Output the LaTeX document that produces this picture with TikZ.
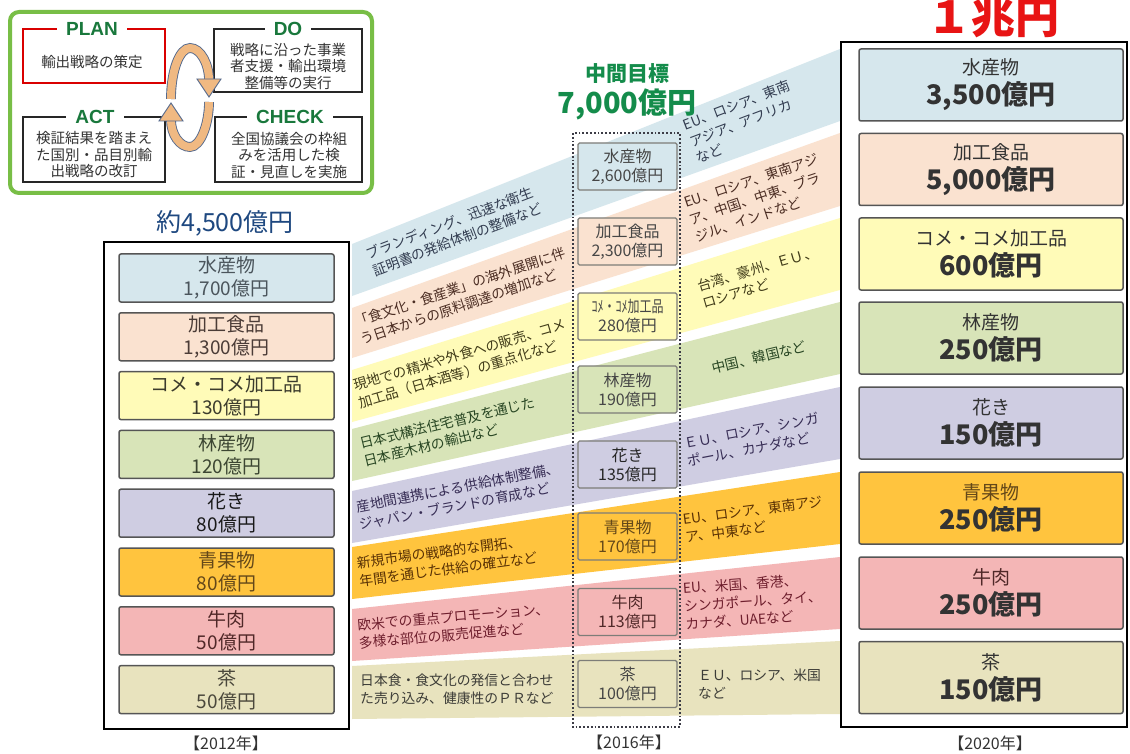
\documentclass[tikz,border=0pt]{standalone}
\usepackage{fontspec}
\setmainfont{Noto Sans CJK JP}
\newfontfamily\latb{Liberation Sans}
\newcommand{\myfs}[2]{\fontsize{#1}{#2}\selectfont}
\newcommand{\rv}[1]{{\bfseries\myfs{27}{30}#1}}
\definecolor{cb1}{RGB}{214,231,237}
\definecolor{cb2}{RGB}{250,226,208}
\definecolor{cb3}{RGB}{255,251,184}
\definecolor{cb4}{RGB}{216,228,184}
\definecolor{cb5}{RGB}{207,205,226}
\definecolor{cb6}{RGB}{255,196,62}
\definecolor{cb7}{RGB}{244,182,182}
\definecolor{cb8}{RGB}{232,227,190}
\definecolor{ct1}{RGB}{50,60,80}
\definecolor{ct2}{RGB}{75,45,35}
\definecolor{ct3}{RGB}{65,60,25}
\definecolor{ct4}{RGB}{40,70,35}
\definecolor{ct5}{RGB}{55,45,85}
\definecolor{ct6}{RGB}{90,50,5}
\definecolor{ct7}{RGB}{110,30,45}
\definecolor{ct8}{RGB}{60,60,55}
\definecolor{lt1}{RGB}{75,85,92}
\definecolor{lt2}{RGB}{75,60,55}
\definecolor{lt3}{RGB}{60,60,45}
\definecolor{lt4}{RGB}{60,70,50}
\definecolor{lt5}{RGB}{25,25,25}
\definecolor{lt6}{RGB}{100,72,25}
\definecolor{lt7}{RGB}{80,40,40}
\definecolor{lt8}{RGB}{75,72,60}
\definecolor{boxln}{RGB}{85,85,85}
\definecolor{mboxln}{RGB}{125,125,120}
\definecolor{mtxt}{RGB}{70,70,70}
\definecolor{pdgreen}{RGB}{25,120,60}
\definecolor{pdframe}{RGB}{120,190,70}
\definecolor{midgreen}{RGB}{20,140,75}
\definecolor{sumblue}{RGB}{30,72,128}
\definecolor{bigred}{RGB}{232,20,20}
\definecolor{arrln}{RGB}{85,105,140}
\definecolor{arrfill}{RGB}{240,185,130}
\definecolor{dotln}{RGB}{60,60,70}
\begin{document}
\begin{tikzpicture}[x=1pt,y=-1pt,
  lbox/.style={draw=boxln,line width=1.5pt,rounded corners=2pt,minimum width=215pt,minimum height=48pt,inner sep=0pt,align=center,font=\myfs{19}{23}},
  mbox/.style={draw=mboxln,line width=1.2pt,rounded corners=1.5pt,minimum width=99pt,minimum height=47pt,inner sep=0pt,align=center,font=\myfs{16}{19},text=mtxt},
  rbox/.style={draw=boxln,line width=1.5pt,rounded corners=2pt,minimum width=264pt,minimum height=72pt,inner sep=0pt,align=center,font=\myfs{19}{30},text=black!80},
  btext/.style={anchor=west,inner sep=0pt,align=left,font=\myfs{13.8}{18}},
  pbox/.style={draw=black!85,line width=1.4pt,inner sep=0pt},
  ptitle/.style={fill=white,inner xsep=9pt,inner ysep=1pt,font=\latb\bfseries\myfs{19}{19},text=pdgreen},
  ptext/.style={align=center,inner sep=0pt,font=\myfs{14.5}{16.5},text=black!80},
  ribbon/.style={draw=arrln,line width=0.9pt,double=arrfill,double distance=8pt},
  ahead/.style={fill=arrfill,draw=arrln,line width=0.9pt,line join=miter},
  yr/.style={font=\myfs{16}{16},text=black!80,inner sep=0pt}
]
\useasboundingbox (0,0) rectangle (1130,754);
\fill[white] (0,0) rectangle (1130,754);

% ---------- bands ----------
\fill[cb1] (352,244) -- (840,49)  -- (840,121) -- (352,296) -- cycle;
\fill[cb2] (352,308) -- (840,133) -- (840,206) -- (352,358) -- cycle;
\fill[cb3] (352,370) -- (840,218) -- (840,290) -- (352,422) -- cycle;
\fill[cb4] (352,429) -- (840,302) -- (840,374) -- (352,481) -- cycle;
\fill[cb5] (352,491) -- (840,387) -- (840,459) -- (352,543) -- cycle;
\fill[cb6] (352,547) -- (840,472) -- (840,544) -- (352,599) -- cycle;
\fill[cb7] (352,609) -- (840,557) -- (840,629) -- (352,661) -- cycle;
\fill[cb8] (352,666) -- (840,641) -- (840,714) -- (352,719) -- cycle;

% band texts (left)
\node[btext,rotate=20.8,text=ct1] (t1l) at (370,263) {ブランディング、迅速な衛生\\証明書の発給体制の整備など};
\node[btext,rotate=18.5,text=ct2] (t2l) at (358,331) {「食文化・食産業」の海外展開に伴\\う日本からの原料調達の増加など};
\node[btext,rotate=16.2,text=ct3] (t3l) at (356,394.5) {現地での精米や外食への販売、コメ\\加工品（日本酒等）の重点化など};
\node[btext,rotate=13.5,text=ct4] (t4l) at (362,452.5) {日本式構法住宅普及を通じた\\日本産木材の輸出など};
\node[btext,rotate=10.9,text=ct5] (t5l) at (358,516) {産地間連携による供給体制整備、\\ジャパン・ブランドの育成など};
\node[btext,rotate=7.6,text=ct6] (t6l) at (358,572) {新規市場の戦略的な開拓、\\年間を通じた供給の確立など};
\node[btext,rotate=4.9,text=ct7] (t7l) at (358,634) {欧米での重点プロモーション、\\多様な部位の販売促進など};
\node[btext,text=ct8] (t8l) at (360,689) {日本食・食文化の発信と合わせ\\た売り込み、健康性のＰＲなど};

% band texts (right)
\node[btext,rotate=20.8,text=ct1] (t1r) at (690,142) {EU、ロシア、東南\\アジア、アフリカ\\など};
\node[btext,rotate=18.5,text=ct2] (t2r) at (690,220) {EU、ロシア、東南アジ\\ア、中国、中東、ブラ\\ジル、インドなど};
\node[btext,rotate=16.2,text=ct3] (t3r) at (700,294.5) {台湾、豪州、ＥＵ、\\ロシアなど};
\node[btext,rotate=13.5,text=ct4] (t4r) at (712,368.5) {中国、韓国など};
\node[btext,rotate=10.9,text=ct5] (t5r) at (686,452.5) {ＥＵ、ロシア、シンガ\\ポール、カナダなど};
\node[btext,rotate=7.6,text=ct6] (t6r) at (684,528.5) {EU、ロシア、東南アジ\\ア、中東など};
\node[btext,rotate=4.0,text=ct7] (t7r) at (684,606) {EU、米国、香港、\\シンガポール、タイ、\\カナダ、UAEなど};
\node[btext,text=ct8] (t8r) at (698,684) {ＥＵ、ロシア、米国\\など};

% ---------- PDCA ----------
\draw[pdframe,line width=4pt,rounded corners=9pt,fill=white] (10,12) rectangle (372,193);
\node[pbox,draw=red!85!black,minimum width=142pt,minimum height=54pt] (planbox) at (94,56) {};
\node[pbox,minimum width=148pt,minimum height=63pt] (dobox) at (288,60.5) {};
\node[pbox,minimum width=142pt,minimum height=65pt] (actbox) at (94,149.5) {};
\node[pbox,minimum width=147pt,minimum height=65pt] (checkbox) at (288.5,149.5) {};
\node[ptitle] (plant) at (92,29) {PLAN};
\node[ptitle] (dot) at (288,29) {DO};
\node[ptitle] (actt) at (95,117) {ACT};
\node[ptitle] (checkt) at (290,117) {CHECK};
\node[ptext] (planx) at (92,62) {輸出戦略の策定};
\node[ptext] (dox) at (288,66) {戦略に沿った事業\\者支援・輸出環境\\整備等の実行};
\node[ptext] (actx) at (94,155) {検証結果を踏まえ\\た国別・品目別輸\\出戦略の改訂};
\node[ptext] (checkx) at (289,155) {全国協議会の枠組\\みを活用した検\\証・見直しを実施};
% cycle arrows
\draw[ribbon] (171,99) .. controls (171,71) and (179.5,48) .. (190,48) .. controls (200.5,48) and (209,64) .. (209,80);
\filldraw[ahead] (197,79) -- (221,79) -- (209,97) -- cycle;
\draw[ribbon] (209,102) .. controls (209,124) and (200.5,147) .. (190,147) .. controls (179.5,147) and (171,134) .. (171,120);
\filldraw[ahead] (159,121) -- (183,121) -- (171,103) -- cycle;

% ---------- left column (2012) ----------
\node[text=sumblue,font=\myfs{25}{25},inner sep=0pt] (sum2012) at (225,223) {約4,500億円};
\draw[line width=1.8pt,fill=white] (104,242) rectangle (349,729);
\node[lbox,fill=cb1,text=lt1] (l1) at (226.5,278) {水産物\\1,700億円};
\node[lbox,fill=cb2,text=lt2] (l2) at (226.5,336.8) {加工食品\\1,300億円};
\node[lbox,fill=cb3,text=lt3] (l3) at (226.5,395.6) {コメ・コメ加工品\\130億円};
\node[lbox,fill=cb4,text=lt4] (l4) at (226.5,454.4) {林産物\\120億円};
\node[lbox,fill=cb5,text=lt5] (l5) at (226.5,513.2) {花き\\80億円};
\node[lbox,fill=cb6,text=lt6] (l6) at (226.5,572) {青果物\\80億円};
\node[lbox,fill=cb7,text=lt7] (l7) at (226.5,630.8) {牛肉\\50億円};
\node[lbox,fill=cb8,text=lt8] (l8) at (226.5,689.6) {茶\\50億円};
\node[yr] (y2012) at (226,743) {【2012年】};

% ---------- middle column (2016) ----------
\node[text=midgreen,font=\bfseries\myfs{21}{21},inner sep=0pt] (midlab) at (627,74) {中間目標};
\node[text=midgreen,font=\bfseries\myfs{29}{29},inner sep=0pt] (midsum) at (627,104) {7,000億円};
\draw[dotln,dotted,line width=1.8pt] (573,133) rectangle (680,727);
\node[mbox,fill=cb1] (m1) at (627.5,166.5) {水産物\\2,600億円};
\node[mbox,fill=cb2] (m2) at (627.5,241.5) {加工食品\\2,300億円};
\node[mbox,fill=cb3] (m3) at (627.5,316.5) {\scalebox{0.75}[1]{ｺﾒ・ｺﾒ加工品}\\280億円};
\node[mbox,fill=cb4] (m4) at (627.5,389.5) {林産物\\190億円};
\node[mbox,fill=cb5,text=black!85] (m5) at (627.5,464.5) {花き\\135億円};
\node[mbox,fill=cb6,text=lt6] (m6) at (627.5,536.5) {青果物\\170億円};
\node[mbox,fill=cb7,text=lt7] (m7) at (627.5,612) {牛肉\\113億円};
\node[mbox,fill=cb8] (m8) at (627.5,684) {茶\\100億円};
\node[yr] (y2016) at (629,742) {【2016年】};

% ---------- right column (2020) ----------
\node[text=bigred,font=\bfseries\myfs{44}{44},inner sep=0pt] (goal) at (993,17) {１兆円};
\draw[line width=2.5pt,fill=white] (841,42) rectangle (1127,727);
\node[rbox,fill=cb1] (r1) at (991,85) {水産物\\\rv{3,500億円}};
\node[rbox,fill=cb2] (r2) at (991,169.5) {加工食品\\\rv{5,000億円}};
\node[rbox,fill=cb3] (r3) at (991,254) {コメ・コメ加工品\\\rv{600億円}};
\node[rbox,fill=cb4] (r4) at (991,338) {林産物\\\rv{250億円}};
\node[rbox,fill=cb5] (r5) at (991,423) {花き\\\rv{150億円}};
\node[rbox,fill=cb6] (r6) at (991,508) {{\color{lt6}青果物}\\\rv{250億円}};
\node[rbox,fill=cb7] (r7) at (991,593) {{\color{lt7}牛肉}\\\rv{250億円}};
\node[rbox,fill=cb8] (r8) at (991,677.5) {茶\\\rv{150億円}};
\node[yr] (y2020) at (990,743) {【2020年】};
\end{tikzpicture}
\end{document}
